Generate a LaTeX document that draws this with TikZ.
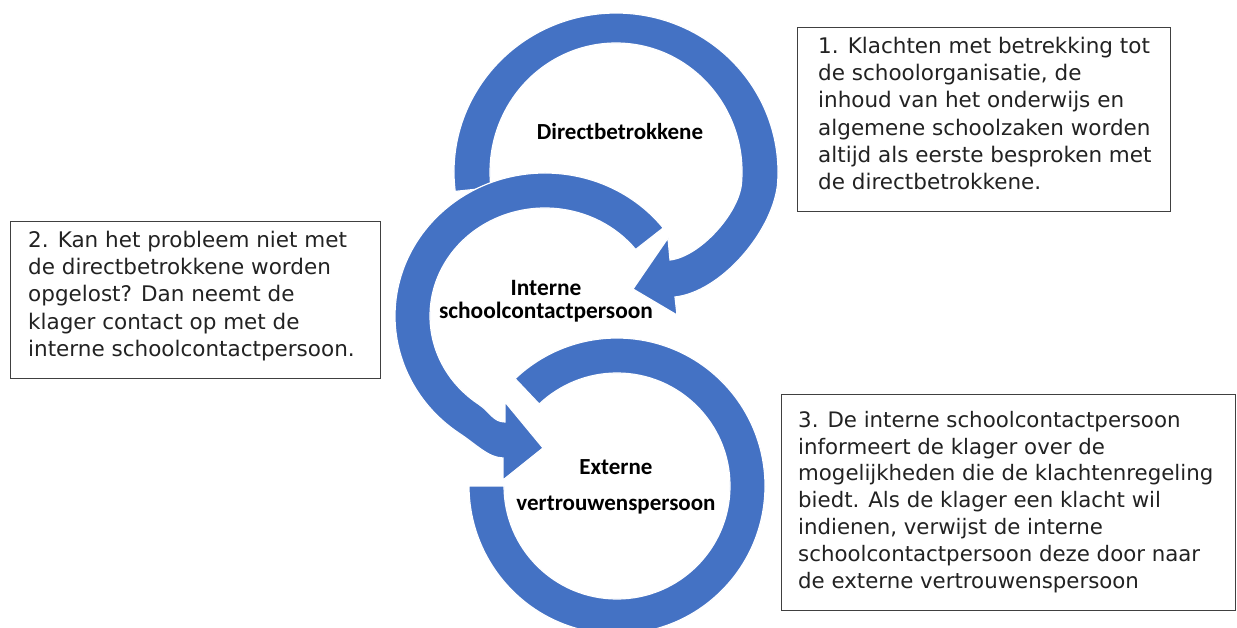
\documentclass[tikz,border=0pt]{standalone}
\usepackage{fontspec}
\setmainfont{DejaVu Sans}
\newfontfamily\lblfont{Carlito}
\usetikzlibrary{calc}
\definecolor{arrowblue}{HTML}{4472C4}
\definecolor{boxline}{HTML}{404040}
\definecolor{txtcol}{HTML}{222222}
\begin{document}
\begin{tikzpicture}[x=1pt,y=-1pt,
  band/.style={fill=arrowblue, draw=white, line width=1.2pt, line join=miter},
  box/.style={draw=boxline, line width=1.2pt, fill=white, inner sep=0pt, anchor=north west},
  boxtext/.style={anchor=north west, inner sep=0pt, align=left, text=txtcol},
  lbl/.style={inner sep=0pt, align=center, text=black}
]
\useasboundingbox[fill=white] (0,0) rectangle (1237,628);

% ---- circular arrows ----
\coordinate (c1) at (616,172);
\coordinate (c2) at (545,316);
\coordinate (c3) at (617,486);

\fill[band] ($(c1)+(187:162pt and 159pt)$)
  arc[start angle=187, end angle=-5, x radius=162pt, y radius=159pt]
  .. controls (771,234) and (720,292) .. (675,297)
  -- (677,315) -- (633,289) -- (668,238) -- (670,260)
  .. controls (700,256.5) and (739,213) .. ($(c1)+(-5:126pt and 129pt)$)
  arc[start angle=-5, end angle=187, x radius=126pt, y radius=129pt] -- cycle;

\fill[band] ($(c2)+(38:150pt and 143pt)$)
  arc[start angle=38, end angle=235, x radius=150pt, y radius=143pt]
  .. controls (477,445) and (488,457.6) .. (503,458)
  -- (503,480) -- (543,448) -- (505,402) -- (505,422)
  .. controls (493,421.7) and (491,412.7) .. ($(c2)+(235:115pt and 108pt)$)
  arc[start angle=235, end angle=38, x radius=115pt, y radius=108pt] -- cycle;

\fill[band] ($(c3)+(133.5:148pt)$)
  arc[start angle=133.5, end angle=-180, radius=148pt]
  -- ($(c3)+(180:113pt)$)
  arc[start angle=-180, end angle=133.5, radius=113pt] -- cycle;

% ---- labels ----
\node[lbl, anchor=base, font=\lblfont\bfseries\fontsize{23}{23}\selectfont] (l1) at (620,140) {Directbetrokkene};
\node[lbl, anchor=north, font=\lblfont\bfseries\fontsize{23.4}{23}\selectfont] (l2) at (546,280.5) {Interne\\schoolcontactpersoon};
\node[lbl, anchor=north, font=\lblfont\bfseries\fontsize{23}{36}\selectfont] (l3) at (616,459.5) {Externe\\vertrouwenspersoon};

% ---- text boxes ----
\node[box, minimum width=373pt, minimum height=184pt] (b1) at (797,27) {};
\node[boxtext, font=\fontsize{21.5}{27.3}\selectfont] (t1) at (818,36.7) {1. Klachten met betrekking tot\\
de schoolorganisatie, de\\
inhoud van het onderwijs en\\
algemene schoolzaken worden\\
altijd als eerste besproken met\\
de directbetrokkene.};

\node[box, minimum width=370pt, minimum height=157pt] (b2) at (10,221) {};
\node[boxtext, font=\fontsize{21.5}{27.3}\selectfont] (t2) at (28,230.7) {2. Kan het probleem niet met\\
de directbetrokkene worden\\
opgelost? Dan neemt de\\
klager contact op met de\\
interne schoolcontactpersoon.};

\node[box, minimum width=454pt, minimum height=216pt] (b3) at (781,394) {};
\node[boxtext, font=\fontsize{21.3}{26.8}\selectfont] (t3) at (798,411) {3. De interne schoolcontactpersoon\\
informeert de klager over de\\
mogelijkheden die de klachtenregeling\\
biedt. Als de klager een klacht wil\\
indienen, verwijst de interne\\
schoolcontactpersoon deze door naar\\
de externe vertrouwenspersoon};
\end{tikzpicture}
\end{document}
